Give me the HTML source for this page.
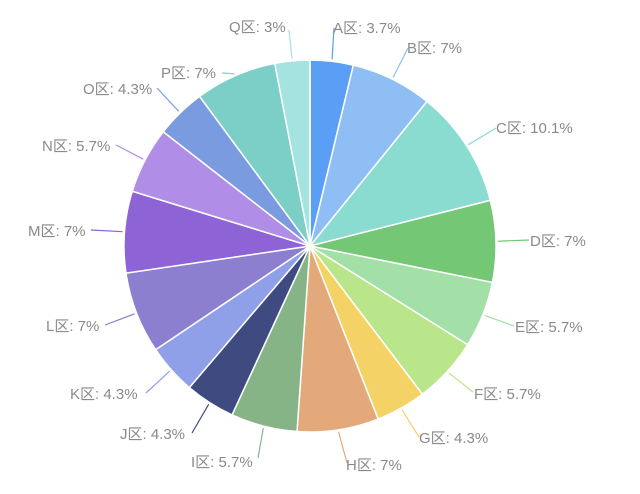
<!DOCTYPE html>
<html><head><meta charset="utf-8"><style>
html,body{margin:0;padding:0;background:#fff;}
svg text{font-family:"Liberation Sans","Noto Sans CJK SC",sans-serif;font-size:15px;fill:#8a8a8a;}
</style></head><body>
<svg id="s" width="640" height="489" xmlns="http://www.w3.org/2000/svg"></svg>
<script>
var d=[["A",3.7,"#5b9ef5",333,33,334,28,0],["B",7,"#8fbef5",407,53,408,48,0],["C",10.1,"#8bdcd0",496,133,496,128,0],["D",7,"#74c774",530,246,529,240,0],["E",5.7,"#a3e0a8",515,332,514,326,0],["F",5.7,"#b9e68a",474,399,473,392,0],["G",4.3,"#f5d266",419,443,419,437,0],["H",7,"#e3a97a",346,470,347,463,0],["I",5.7,"#86b487",191,467,258,458,1],["J",4.3,"#3f4b80",120,439,192,433,1],["K",4.3,"#8fa0e8",70,399,146,393,1],["L",7,"#8c7fd0",46,331,105,325,1],["M",7,"#8e63d6",28,236,91,230,1],["N",5.7,"#b08ee8",42,151,116,145,1],["O",4.3,"#7a9be0",83,94,157,88,1],["P",7,"#7ccfc6",161,78,222,73,1],["Q",3,"#a5e3e0",229,32,289,30,1]];
var cx=310,cy=246,r=186,tot=0;d.forEach(function(e){tot+=e[1]});
var s=document.getElementById("s"),h="",a=-Math.PI/2,L="";
d.forEach(function(e){var b=a+e[1]/tot*2*Math.PI,m=(a+b)/2;
var x1=cx+r*Math.cos(a),y1=cy+r*Math.sin(a),x2=cx+r*Math.cos(b),y2=cy+r*Math.sin(b);
h+='<path d="M'+cx+' '+cy+'L'+x1+' '+y1+'A'+r+' '+r+' 0 '+((b-a)>Math.PI?1:0)+' 1 '+x2+' '+y2+'Z" fill="'+e[2]+'" stroke="#fff" stroke-width="1.5"/>';
var lx=cx+(r+2)*Math.cos(m),ly=cy+(r+2)*Math.sin(m);
L+='<line x1="'+lx+'" y1="'+ly+'" x2="'+e[5]+'" y2="'+e[6]+'" stroke="'+e[2]+'" stroke-width="1.2"/>';
L+='<text x="'+e[3]+'" y="'+e[4]+'">'+e[0]+'区: '+e[1]+'%</text>';a=b;});
s.innerHTML=h+L;
</script>
</body></html>
